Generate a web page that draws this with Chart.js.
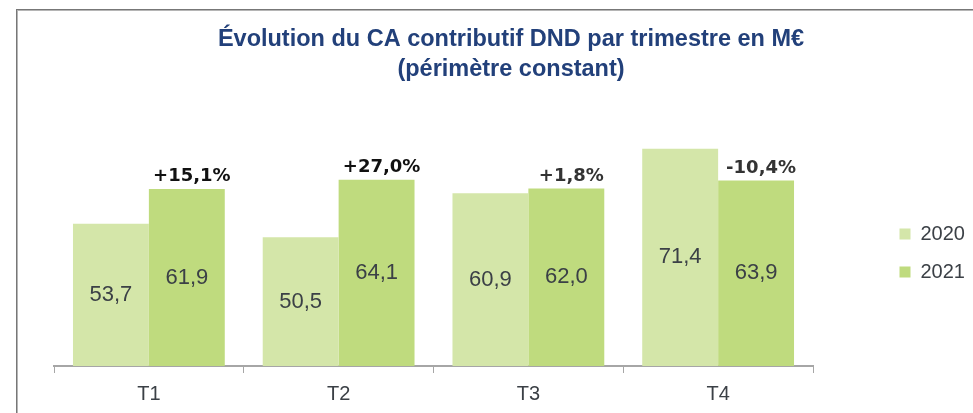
<!DOCTYPE html>
<html>
<head>
<meta charset="utf-8">
<script src="https://cdn.jsdelivr.net/npm/chart.js@4"></script>
<style>
  html, body { margin: 0; padding: 0; overflow: hidden; background: #fff; }
  .frame {
    position: absolute; left: 16px; top: 9px; width: 1100px; height: 500px;
    border-left: 1px solid #777; border-top: 1px solid #777;
    box-shadow: inset 1px 1px 0 #b5b5b5;
  }
  #caChart { position: absolute; left: 0; top: 0; }
</style>
</head>
<body>
<div class="frame"></div>
<canvas id="caChart" width="1022" height="422"></canvas>
<script>
// data
const categories = ['T1', 'T2', 'T3', 'T4'];
const ca2020 = [53.7, 50.5, 60.9, 71.4];
const ca2021 = [61.9, 64.1, 62.0, 63.9];
const growthLabels = ['+15,1%', '+27,0%', '+1,8%', '-10,4%'];
const seriesNames = ['2020', '2021'];

const growthColors = ['#111', '#111', '#333', '#333'];

// labels in the bars + growth above 2021 bars
const barLabels = {
  id: 'barLabels',
  afterDatasetsDraw(chart) {
    const ctx = chart.ctx;
    const bottom = chart.chartArea.bottom;
    ctx.save();
    ctx.textAlign = 'center';
    ctx.textBaseline = 'middle';
    ctx.font = '22px "Liberation Sans", Arial, sans-serif';
    ctx.fillStyle = '#3b4046';
    chart.data.datasets.forEach((ds, i) => {
      chart.getDatasetMeta(i).data.forEach((bar, j) => {
        const base = Math.min(bar.base, bottom);
        ctx.fillText(ds.data[j].toFixed(1).replace('.', ','), bar.x, (bar.y + base) / 2);
      });
    });

    ctx.font = 'bold 18px "DejaVu Sans", sans-serif';
    ctx.textBaseline = 'alphabetic';
    chart.getDatasetMeta(1).data.forEach((bar, j) => {
      ctx.fillStyle = growthColors[j];
      ctx.fillText(growthLabels[j], bar.x + 5, bar.y - 7.5);
    });
    ctx.restore();
  }
};

const ctx = document.getElementById('caChart').getContext('2d');
const caChart = new Chart(ctx, {
  type: 'bar',
  data: {
    labels: categories,
    datasets: [{
      label: seriesNames[0],
      data: ca2020,
      backgroundColor: '#d4e6a9',
      borderWidth: 0,
      categoryPercentage: 0.8,
      barPercentage: 1.0
    }, {
      label: seriesNames[1],
      data: ca2021,
      backgroundColor: '#bfdb7e',
      borderWidth: 0,
      categoryPercentage: 0.8,
      barPercentage: 1.0
    }]
  },
  options: {
    responsive: false,
    animation: false,
    layout: { padding: { left: 54, right: 54, top: 0, bottom: 7 } },
    plugins: {
      title: {
        display: true,
        text: ['Évolution du CA contributif DND par trimestre en M€', '(périmètre constant)'],
        color: '#22407a',
        font: { family: '"Liberation Sans", Arial, sans-serif', size: 23.5, weight: 'bold', lineHeight: 1.277 },
        padding: { top: 25, bottom: 27.5 }
      },
      legend: {
        position: 'right',
        align: 'center',
        maxWidth: 86.5,
        title: { display: true, text: '', font: { size: 1 }, padding: { top: 90, bottom: 0 } },
        labels: {
          boxWidth: 11,
          boxHeight: 11,
          padding: 18,
          color: '#3b4046',
          font: { family: '"Liberation Sans", Arial, sans-serif', size: 20 }
        }
      },
      tooltip: { enabled: false }
    },
    scales: {
      x: {
        grid: {
          offset: true,
          drawOnChartArea: false,
          tickLength: 7,
          color: '#a6a6a6',
          lineWidth: 1
        },
        border: { color: '#a6a6a6', width: 2 },
        ticks: {
          padding: 9,
          color: '#3b4046',
          font: { family: '"Liberation Sans", Arial, sans-serif', size: 20 }
        }
      },
      y: {
        position: 'right',
        min: 20,
        max: 80,
        grid: { display: false },
        border: { display: false },
        ticks: { display: false },
        afterFit: (scale) => { scale.width = 68.5; }
      }
    }
  },
  plugins: [barLabels]
});
</script>
</body>
</html>
